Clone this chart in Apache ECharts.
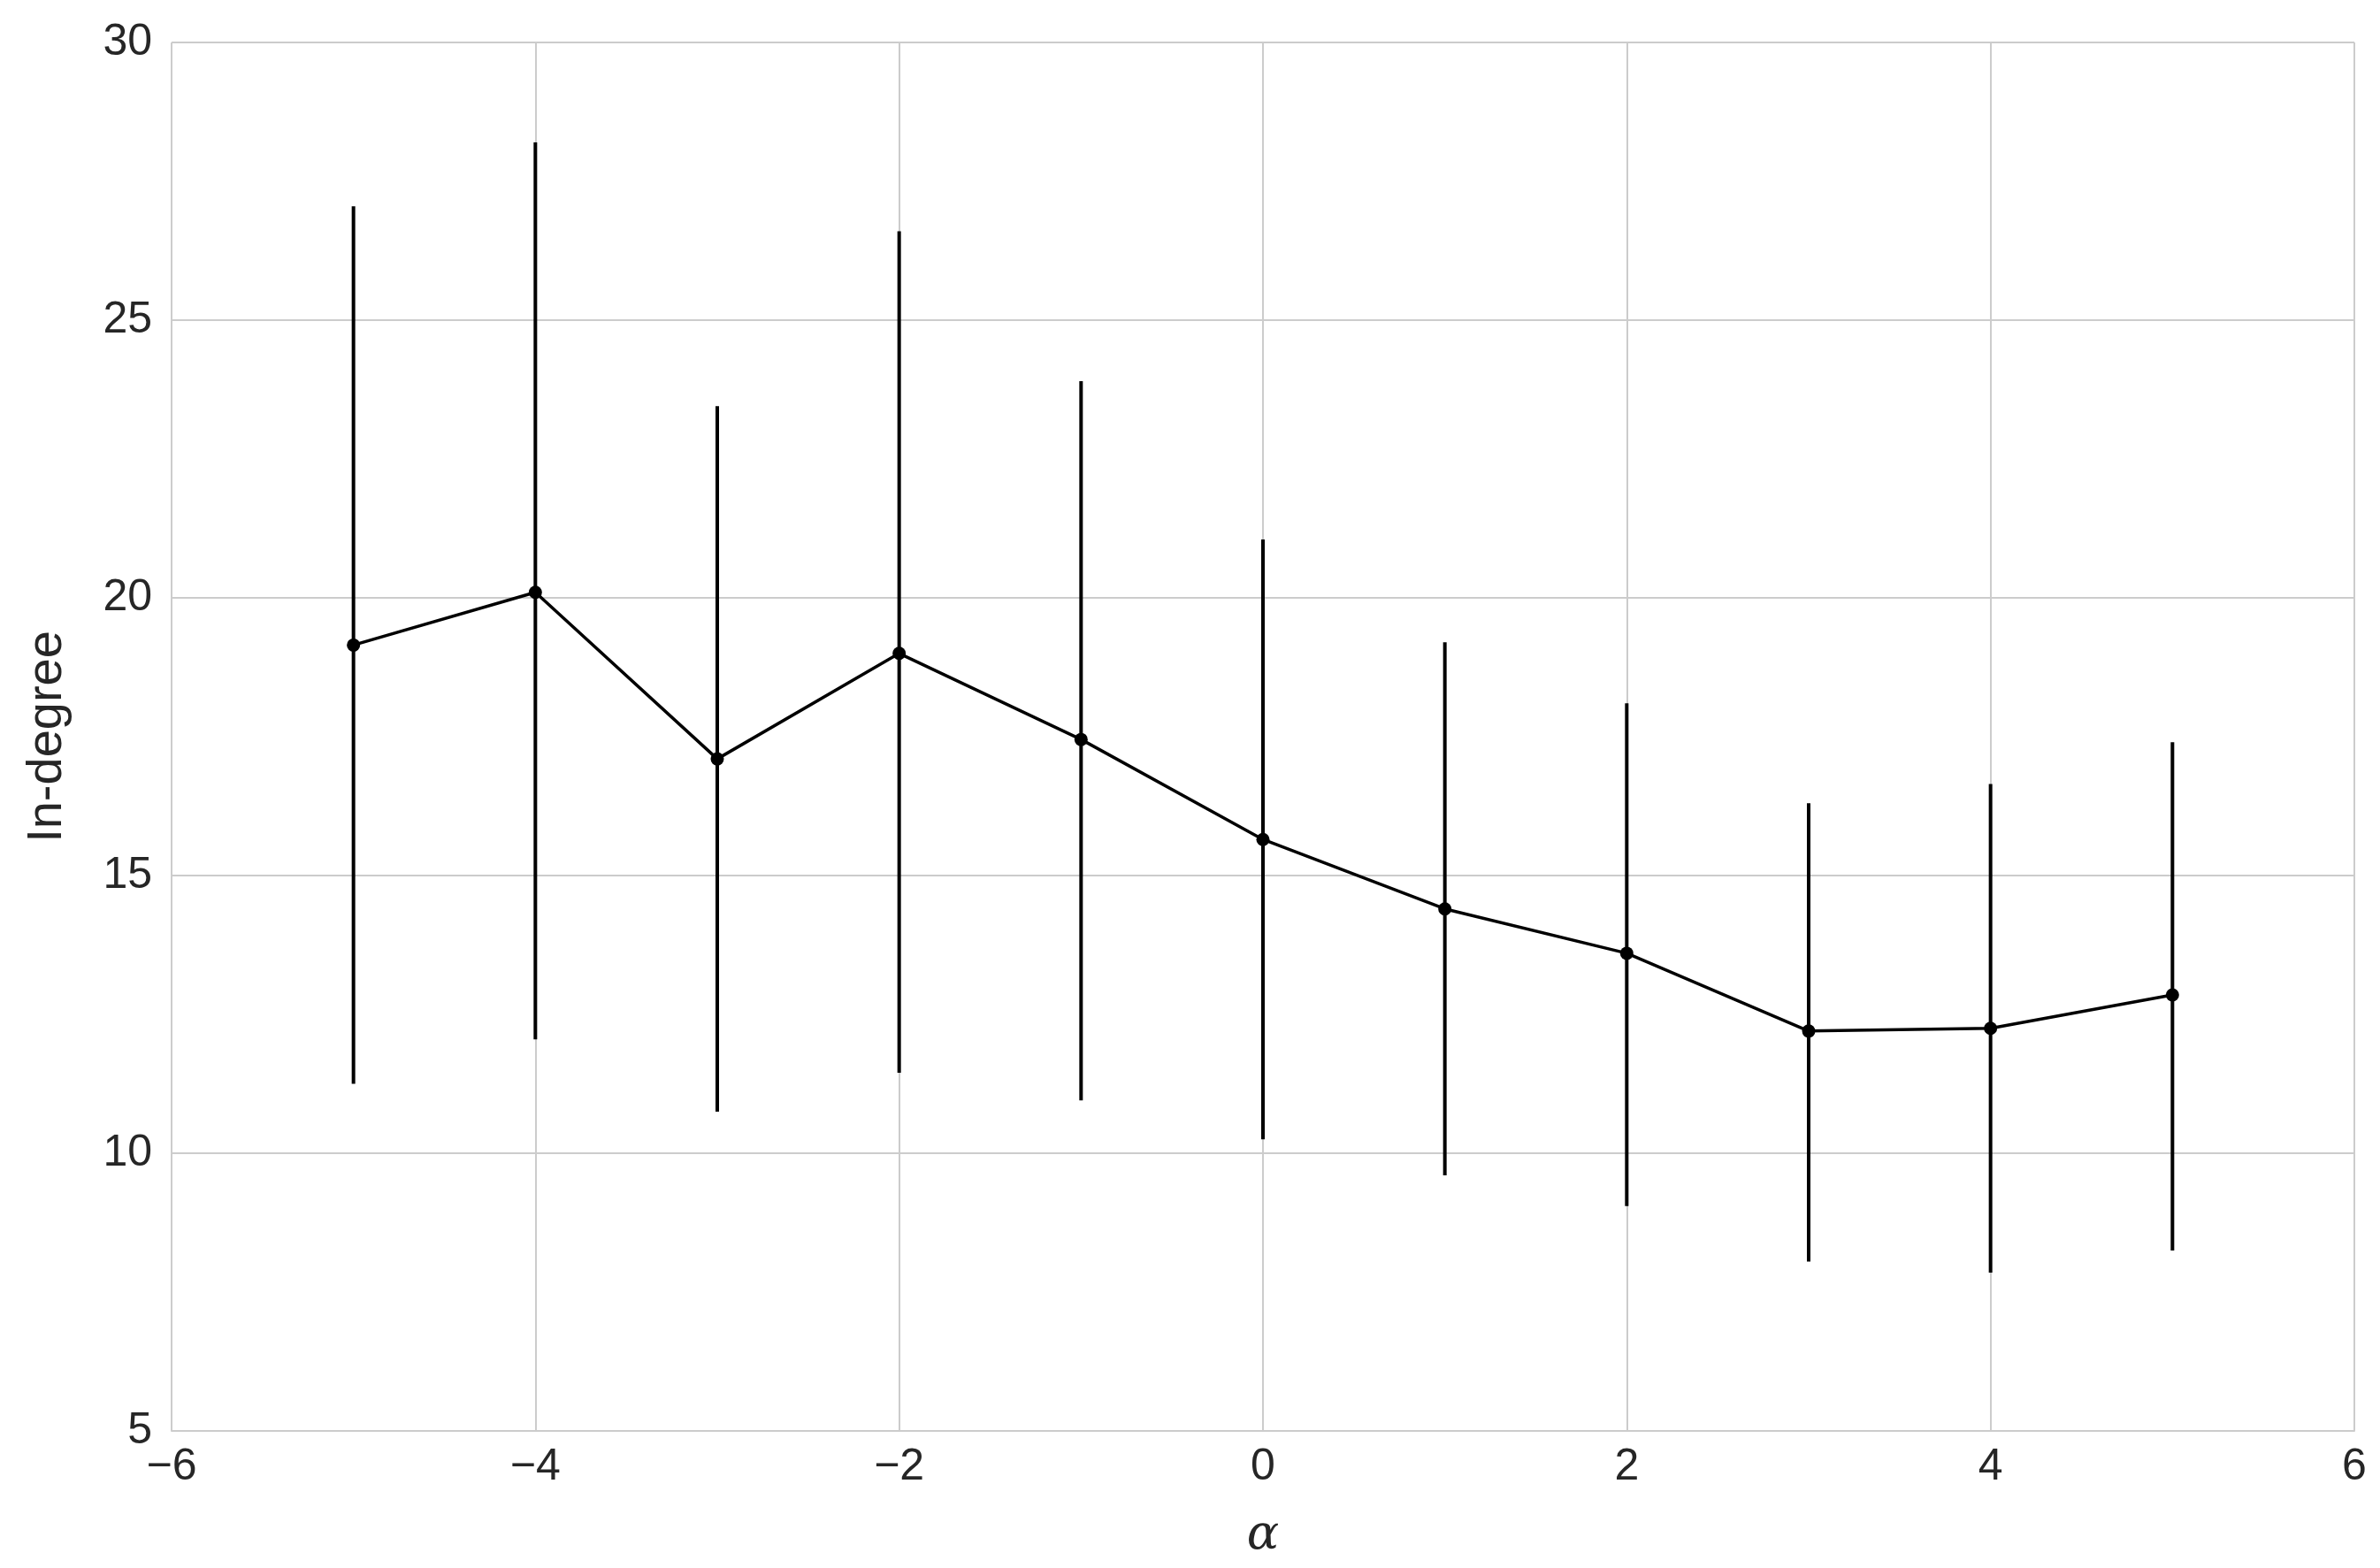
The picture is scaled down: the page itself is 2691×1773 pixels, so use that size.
<!DOCTYPE html>
<html>
<head>
<meta charset="UTF-8">
<script src="https://cdn.jsdelivr.net/npm/echarts@6/dist/echarts.min.js"></script>
<style>
  html, body { margin: 0; padding: 0; background: #fff; }
  #chart { width: 2691px; height: 1773px; }
</style>
</head>
<body>
<div id="chart"></div>
<script>
var alphas = [-5, -4, -3, -2, -1, 0, 1, 2, 3, 4, 5];
var means  = [19.15, 20.1, 17.1, 19.0, 17.45, 15.65, 14.4, 13.6, 12.2, 12.25, 12.85];
var upper  = [27.05, 28.2, 23.45, 26.6, 23.9, 21.05, 19.2, 18.1, 16.3, 16.65, 17.4];
var lower  = [11.25, 12.05, 10.75, 11.45, 10.95, 10.25, 9.6, 9.05, 8.05, 7.85, 8.25];

var chart = echarts.init(document.getElementById('chart'));

var lineData = alphas.map(function (a, i) { return [a, means[i]]; });
var errData = alphas.map(function (a, i) { return [a, lower[i], upper[i]]; });

var tickFont = { fontFamily: 'Liberation Sans', fontSize: 50, color: '#262626' };

chart.setOption({
  animation: false,
  grid: { left: 194, right: 29, top: 48, bottom: 155 },
  xAxis: {
    type: 'value', min: -6, max: 6, interval: 2,
    name: 'α', nameLocation: 'middle', nameGap: 92,
    nameTextStyle: { fontFamily: 'DejaVu Serif', fontStyle: 'italic', fontSize: 54, color: '#262626' },
    axisLine: { show: true, lineStyle: { color: '#cccccc', width: 2 } },
    axisTick: { show: false },
    axisLabel: Object.assign({ margin: 16, formatter: function (v) { return v < 0 ? '\u2212' + (-v) : v; } }, tickFont),
    splitLine: { show: true, lineStyle: { color: '#cccccc', width: 2 } }
  },
  yAxis: {
    type: 'value', min: 5, max: 30, interval: 5,
    name: 'In-degree', nameLocation: 'middle', nameGap: 112,
    nameTextStyle: { fontFamily: 'Liberation Sans', fontSize: 56, color: '#262626' },
    axisLine: { show: true, lineStyle: { color: '#cccccc', width: 2 } },
    axisTick: { show: false },
    axisLabel: Object.assign({ margin: 22 }, tickFont),
    splitLine: { show: true, lineStyle: { color: '#cccccc', width: 2 } }
  },
  series: [
    {
      type: 'custom',
      data: errData,
      renderItem: function (params, api) {
        var lo = api.coord([api.value(0), api.value(1)]);
        var hi = api.coord([api.value(0), api.value(2)]);
        return {
          type: 'line',
          shape: { x1: lo[0], y1: lo[1], x2: hi[0], y2: hi[1] },
          style: { stroke: '#000', lineWidth: 4 }
        };
      },
      z: 2
    },
    {
      type: 'line',
      data: lineData,
      symbol: 'circle',
      symbolSize: 15,
      itemStyle: { color: '#000' },
      lineStyle: { color: '#000', width: 3.5 },
      z: 3
    }
  ]
});
</script>
</body>
</html>
